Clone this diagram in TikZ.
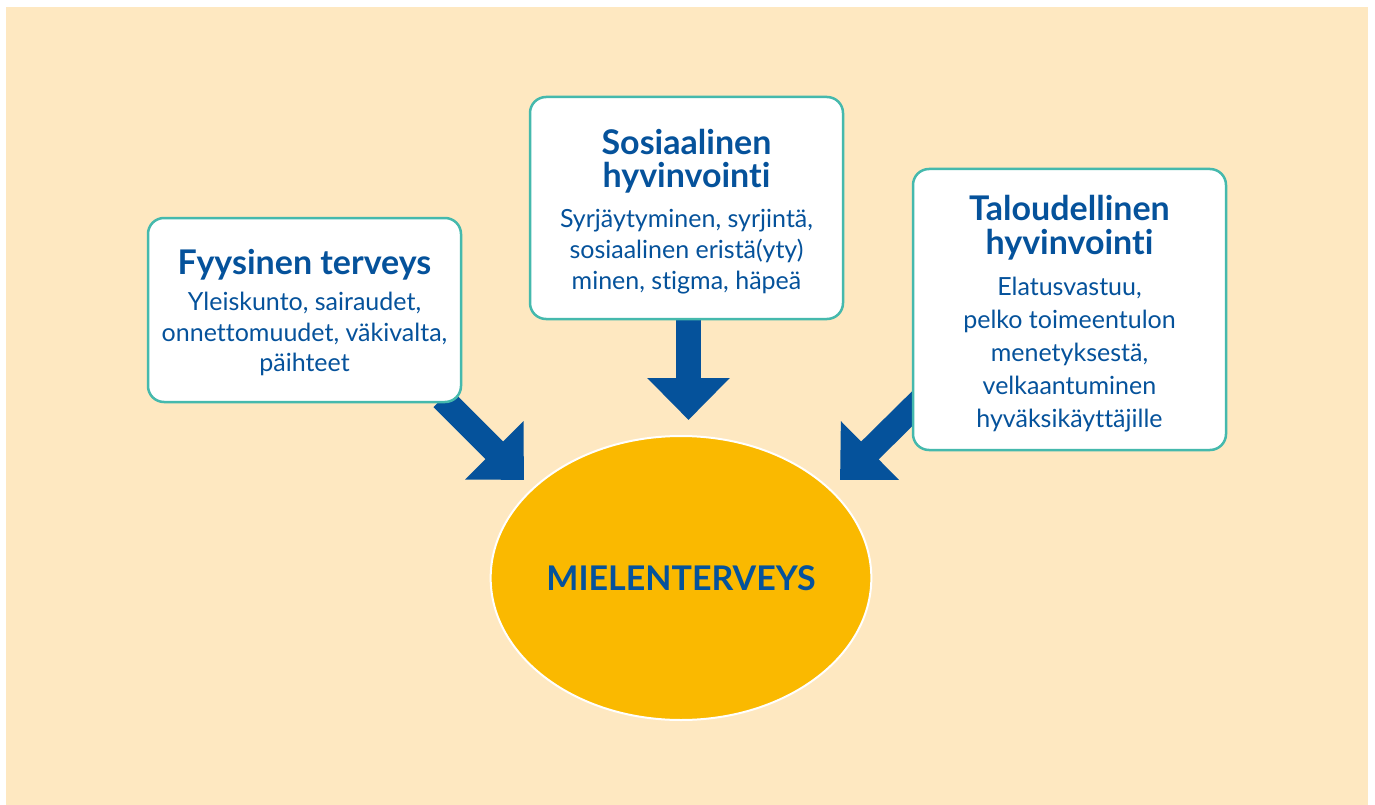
\documentclass[tikz,border=0pt]{standalone}
\usepackage{fontspec}
\setmainfont{Lato}[Ligatures=NoCommon]
\usetikzlibrary{
    arrows.meta,
    shapes.geometric,
    positioning,
    backgrounds
}
\definecolor{kerma}{HTML}{FEE8C1}
\definecolor{sininen}{HTML}{05529B}
\definecolor{turkoosi}{HTML}{45B9AD}
\definecolor{keltainen}{HTML}{FAB900}
\tikzset{laatikko/.style={draw=turkoosi, line width=2.5pt, fill=white, rounded corners=16pt, minimum width=313pt}}
\tikzset{otsikko/.style={text=sininen, align=center, inner sep=0pt, anchor=north, font=\fontsize{34}{34}\selectfont\bfseries}}
\tikzset{leipa/.style={text=sininen, align=center, inner sep=0pt, anchor=north, font=\fontsize{25}{30.5}\selectfont}}
\tikzset{nuoli/.style={draw=sininen, line width=25pt, -{Triangle[width=80pt,length=42pt]}}}

\begin{document}
\begin{tikzpicture}[x=1pt, y=-1pt]
                        \useasboundingbox (0,0) rectangle (1375,805);

                        \node[laatikko, minimum height=184pt] (fyys) at (304.5,310) {};
                        \node[laatikko, minimum height=222pt] (sos) at (686.5,208) {};
                        \node[laatikko, minimum height=281pt] (talo) at (1069.5,309.5) {};

                        \node[otsikko] (fyysots) at (304.5,249) {Fyysinen terveys};
                        \node[leipa] (fyysteksti) at (304.5,292) {Yleiskunto, sairaudet,\\onnettomuudet, väkivalta,\\päihteet};

                        \node[otsikko, font=\fontsize{34}{33}\selectfont\bfseries] (sosots) at (686.5,129) {Sosiaalinen\\hyvinvointi};
                        \node[leipa, font=\fontsize{25}{31}\selectfont] (sosteksti) at (686.5,209) {Syrjäytyminen, syrjintä,\\sosiaalinen eristä(yty)\\minen, stigma, häpeä};

                        \node[otsikko] (taloots) at (1069.5,195) {Taloudellinen\\hyvinvointi};
                        \node[leipa, font=\fontsize{25}{33}\selectfont] (taloteksti) at (1069.5,277) {Elatusvastuu,\\pelko toimeentulon\\menetyksestä,\\velkaantuminen\\hyväksikäyttäjille};

                        \node[ellipse, draw=white, line width=2pt, fill=keltainen, inner sep=0pt, minimum width=380pt, minimum height=284pt,
                            text=sininen, font=\fontsize{34}{40}\selectfont\bfseries] (mieli) at (681,578) {MIELENTERVEYS};

                        \coordinate (k1) at (524,480);
                        \coordinate (k2) at (688.5,420);
                        \coordinate (k3) at (840,480);

                        \begin{scope}[on background layer]
                        \fill[kerma] (6,7) rectangle (1368,805);
                        \draw[nuoli] ([shift={(-20,-5)}]fyys.south east) -- (k1);
                        \draw[nuoli] (sos.south -| k2) -- (k2);
                        \draw[nuoli] ([shift={(9,-51)}]talo.south west) -- (k3);
                        \end{scope}
                    \end{tikzpicture}
\end{document}
